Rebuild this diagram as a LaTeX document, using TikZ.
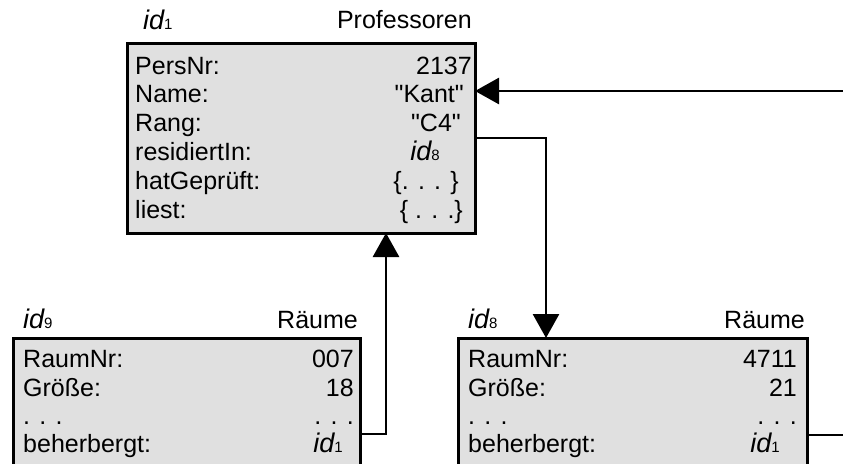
\documentclass[tikz,border=0pt]{standalone}
\usepackage{fontspec}
\setmainfont{Liberation Sans}
\usetikzlibrary{arrows.meta}
\definecolor{boxfill}{RGB}{224,224,224}
\newcommand{\oid}[1]{{\fontsize{27}{27}\selectfont\itshape id}{\fontsize{15}{15}\selectfont #1}}
\newcommand{\sq}{\XeTeXglyph\XeTeXcharglyph34\relax}
\begin{document}
\begin{tikzpicture}[x=1pt,y=-1pt,
  objbox/.style={draw=black, line width=3pt, fill=boxfill, anchor=north west, inner sep=0pt, outer sep=0pt},
  txt/.style={inner sep=0pt, font=\fontsize{25}{29}\selectfont},
  lab/.style={txt, anchor=base west},
  val/.style={txt, anchor=base east},
  conn/.style={line width=2.8pt},
  tip/.style={-{Triangle[length=24pt,width=26pt]}}]
\useasboundingbox (0,0) rectangle (843,463);
\clip (0,0) rectangle (843,463);

% boxes
\node[objbox, minimum width=348pt, minimum height=190pt] (prof) at (127,43) {};
\node[objbox, minimum width=347pt, minimum height=150pt] (r9) at (13,338) {};
\node[objbox, minimum width=349pt, minimum height=150pt] (r8) at (458,338) {};

% Professoren
\node[lab] (h1) at (143,29) {\oid{1}};
\node[val] (h1c) at (472,28) {Professoren};
\node[lab] (p1) at (135,74) {PersNr:};      \node[val] (v1) at (472,74) {2137};
\node[lab] (p2) at (135,102) {Name:};       \node[val] (v2) at (464,102) {\sq Kant\sq};
\node[lab] (p3) at (135,131) {Rang:};       \node[val] (v3) at (461,131) {\sq C4\sq};
\node[lab] (p4) at (135,160) {residiertIn:};\node[val] (v4) at (440,160) {\oid{8}};
\node[lab] (p5) at (135,189) {hatGeprüft:}; \node[val] (v5) at (459,189) {\{. . . \}};
\node[lab] (p6) at (135,218) {liest:};      \node[val] (v6) at (463,218) {\{ . . .\}};

% Raeume id9
\node[lab] (h9) at (23,328) {\oid{9}};
\node[val] (h9c) at (358,328) {Räume};
\node[lab] (a1) at (23,367) {RaumNr:};      \node[val] (b1) at (354,367) {007};
\node[lab] (a2) at (23,396) {Größe:};       \node[val] (b2) at (354,396) {18};
\node[lab] (a3) at (23,424) {. . .};        \node[val] (b3) at (354,424) {. . .};
\node[lab] (a4) at (23,452) {beherbergt:};  \node[val] (b4) at (343,452) {\oid{1}};

% Raeume id8
\node[lab] (h8) at (468,328) {\oid{8}};
\node[val] (h8c) at (805,328) {Räume};
\node[lab] (c1) at (468,367) {RaumNr:};     \node[val] (d1) at (797,367) {4711};
\node[lab] (c2) at (468,396) {Größe:};      \node[val] (d2) at (797,396) {21};
\node[lab] (c3) at (468,424) {. . .};       \node[val] (d3) at (797,424) {. . .};
\node[lab] (c4) at (468,452) {beherbergt:}; \node[val] (d4) at (780,452) {\oid{1}};

% ports
\coordinate (edgeA) at (843,91);
\coordinate (pName) at (prof.east |- edgeA);
\coordinate (pRes) at (475,138);
\coordinate (r8top) at (546,338);
\coordinate (r9port) at (360,434);
\coordinate (profbot) at (386,233);
\coordinate (r8port) at (807,435);
\coordinate (edgeB) at (843,435);

% connectors
\draw[conn,tip] (edgeA) -- (pName);
\draw[conn,tip] (pRes) -| (r8top);
\draw[conn,tip] (r9port) -| (profbot);
\draw[conn] (r8port) -- (edgeB);
\end{tikzpicture}
\end{document}
